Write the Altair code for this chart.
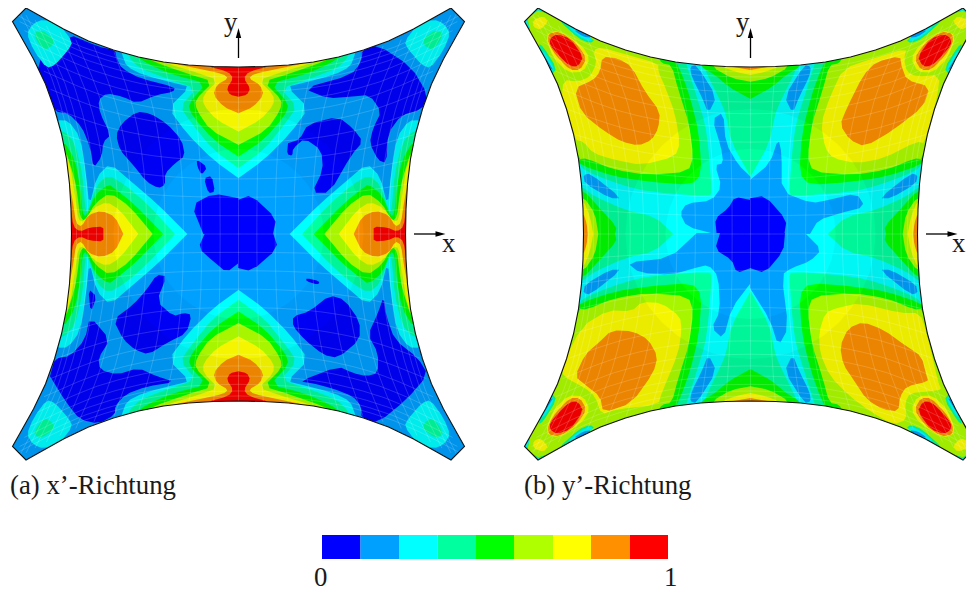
import numpy as np
import altair as alt

# ---- band colours (legend order, value 0 to 1)
LEVELS = ["L0", "L1", "L2", "L3", "L4", "L5", "L6", "L7", "L8"]
COLORS = ["#0000ff", "#00a0ff", "#00ffff", "#00ff9f", "#00ff00", "#afff00", "#ffff00", "#ff9000", "#ff0000"]
LEGEND_EDGES = [322, 360.5, 399, 437.5, 476, 514, 553, 591, 630, 668]

# ---- plate outline: half-width of the plate against distance along the edge
EDGE_U = [0, 25, 50, 75, 100, 125, 150, 175, 200, 212.5]
EDGE_D = [167, 167.5, 169, 172, 177, 184, 193, 205, 219, 226]
CENTER_A = (238.5, 234)
CENTER_B = (750.5, 234)
MESH = [0, .11, .22, .33, .44, .55, .64, .72, .79, .85, .9, .94, .97]

# ---- panel (a), read from the upper-left quarter (mirrored to the others)
A_CORNER_L2 = [(100,70),(130,58),(180,75),(218,125),(205,150),(165,195),(140,205),(100,150),(80,100)]
A_CORNER_L3 = [(100,100),(125,90),(160,115),(160,135),(135,150),(115,130)]
A_SIDE = {
 "L2": [(562,702),(470,610),(400,550),(330,490),(290,530),(268,620),(258,520),(240,410),(205,362),(170,360),(140,400),(180,702)],
 "L3": [(525,702),(440,610),(375,555),(325,525),(290,555),(262,640),(255,620),(247,520),(225,430),(195,395),(175,395),(150,450),(180,702)],
 "L4": [(490,702),(400,610),(350,570),(325,552),(285,585),(258,650),(248,640),(240,560),(225,480),(190,420),(160,460),(180,702)],
 "L5": [(458,702),(390,620),(330,578),(285,610),(255,665),(240,650),(233,590),(225,540),(195,445),(170,480),(180,702)],
 "L6": [(415,702),(360,630),(320,605),(280,625),(250,665),(235,660),(225,590),(210,490),(190,460),(170,500),(180,702)],
 "L7": [(370,702),(345,650),(305,632),(265,645),(245,680),(228,670),(218,600),(205,540),(190,500),(170,520),(180,702)],
 "L8": [(310,702),(310,680),(270,682),(240,695),(220,680),(212,620),(180,600),(180,702)],
}
A_TOP = {
 "L2": [(716,535),(640,480),(560,400),(505,325),(570,260),(525,250),(430,225),(380,200),(365,160),(360,130),(716,130)],
 "L3": [(716,505),(640,450),(575,370),(540,320),(590,265),(500,235),(420,205),(385,170),(380,130),(716,130)],
 "L4": [(716,470),(640,420),(575,345),(565,310),(620,250),(520,225),(440,190),(405,165),(400,130),(716,130)],
 "L5": [(716,435),(630,390),(590,330),(585,300),(640,245),(560,220),(460,185),(430,165),(425,130),(716,130)],
 "L6": [(716,395),(650,360),(610,315),(610,285),(655,240),(590,218),(500,190),(460,170),(450,130),(716,130)],
 "L7": [(716,340),(670,320),(640,285),(650,255),(685,235),(670,222),(590,205),(520,190),(500,130),(716,130)],
 "L8": [(716,290),(690,285),(680,265),(700,235),(685,215),(620,198),(610,130),(716,130)],
}
# dark-blue patches, one set per quarter
A_L0_TL = [
 [(295,140),(345,150),(350,175),(365,205),(420,235),(525,262),(520,275),(470,285),(410,310),(370,290),(320,280),(295,300),(300,340),(332,405),(310,425),(305,470),(280,505),(270,440),(245,380),(205,340),(165,335),(148,290),(100,200),(200,100)],
 [(410,335),(450,340),(500,370),(545,420),(555,468),(525,490),(495,520),(495,555),(475,565),(440,545),(395,490),(360,450),(348,405),(365,370)],
 [(590,478),(622,502),(605,525),(592,500)],
 [(612,535),(635,527),(645,575),(625,580)],
 [(575,615),(640,580),(716,595),(716,702),(610,702)],
]
A_L0_TR = [
 [(372,150),(420,135),(520,200),(570,285),(550,330),(490,345),(450,400),(445,490),(420,480),(395,430),(405,385),(430,335),(395,285),(340,290),(270,295),(195,265),(340,225),(370,185)],
 [(210,372),(300,350),(345,385),(375,425),(340,465),(275,578),(222,578),(255,510),(250,450),(200,415),(165,445),(163,468),(147,462),(150,430),(185,418)],
 [(0,600),(40,585),(115,655),(105,702),(0,702)],
]
A_L0_BL = [
 [(270,250),(330,320),(295,375),(300,410),(350,425),(415,405),(470,430),(525,447),(440,460),(375,485),(345,520),(345,545),(295,572),(240,560),(200,510),(150,430),(165,375),(210,370),(255,320)],
 [(265,168),(290,190),(272,240)],
 [(470,125),(500,130),(470,205),(520,250),(550,240),(575,245),(560,300),(500,330),(445,365),(405,350),(370,320),(340,260),(400,215),(440,170)],
 [(595,45),(615,0),(716,0),(716,90),(680,118),(640,85)],
]
A_L0_BR = [
 [(437,190),(445,250),(470,320),(540,375),(570,425),(505,500),(420,570),(370,555),(370,520),(345,490),(280,465),(220,450),(185,445),(300,400),(345,420),(385,430),(420,420),(420,360),(390,305),(420,240)],
 [(275,187),(320,200),(365,265),(365,320),(300,375),(255,365),(200,320),(165,280),(165,250),(215,235)],
 [(205,135),(245,145),(240,155),(205,145)],
 [(0,0),(105,0),(120,45),(40,115),(0,105)],
]

# ---- panel (b), upper-left quarter (mirrored to the others)
B_MAIN = {
 "L3": [(200,505),(240,525),(320,555),(400,575),(585,590),(590,570),(580,440),(570,370),(545,290),(515,195),(500,150),(82,24),(24,60),(150,350),(190,480)],
 "L4": [(195,495),(300,530),(400,545),(530,555),(560,520),(552,400),(525,290),(492,200),(470,170),(82,24),(24,60),(150,350),(185,470)],
 "L5": [(190,478),(215,475),(300,510),(400,525),(520,515),(535,470),(522,370),(490,270),(470,195),(440,190),(430,170),(82,24),(24,60),(150,350)],
}
B_WEDGE = {
 "L3": [(707,530),(650,430),(632,340),(615,300),(565,200),(560,150),(707,150)],
 "L4": [(707,297),(640,260),(600,225),(555,198),(550,150),(707,150)],
 "L5": [(707,245),(650,235),(590,200),(585,150),(707,150)],
 "L6": [(707,225),(660,215),(620,200),(615,150),(707,150)],
 "L7": [(707,210),(640,198),(635,150),(707,150)],
}
B_WING = {
 "L3": [(150,560),(200,560),(240,590),(330,630),(420,650),(475,702),(150,702)],
 "L4": [(150,570),(205,570),(250,620),(305,680),(300,702),(150,702)],
 "L5": [(150,590),(205,590),(240,640),(250,702),(150,702)],
 "L6": [(150,600),(205,600),(225,650),(235,702),(150,702)],
 "L7": [(150,640),(205,640),(215,670),(218,702),(150,702)],
}
B_PATCH_L1 = [
 [(525,200),(545,195),(605,290),(580,340),(560,290),(530,230)],
 [(205,525),(225,520),(320,595),(285,595),(210,550)],
]
B_STRIP_L3 = [[(70,130),(85,140),(125,205),(110,225),(85,190)], [(130,60),(160,70),(240,120),(225,130),(190,115)]]
B_STRIP_L2 = [[(78,150),(92,160),(118,205),(108,218),(88,185)], [(155,78),(185,82),(235,118),(225,125),(190,108)]]
B_STRIP_L1 = [[(90,170),(105,195),(115,210),(105,205)], [(175,90),(205,95),(230,113),(205,110)]]
B_RING_L6 = [(90,105),(130,90),(200,135),(225,175),(205,215),(160,218),(115,175)]
B_RING_L7 = [(100,100),(135,95),(185,130),(215,175),(195,210),(165,210),(125,170),(100,130)]
B_RED = [(105,115),(125,102),(165,115),(205,170),(190,198),(165,200),(130,165),(105,135)]
B_TIP_L6 = [(55,60),(85,48),(100,65),(75,90),(55,80)]

# central patches, one per quarter
B_L1_TL = [(707,530),(670,495),(632,430),(625,337),(592,358),(618,440),(625,490),(600,495),(620,560),(590,602),(515,610),(495,640),(515,680),(600,702),(707,702)]
B_L0_TL = [(660,590),(707,600),(707,702),(605,702),(600,655),(640,625)]
B_L1_TR = [(0,540),(60,490),(85,415),(95,460),(95,575),(185,610),(235,600),(320,580),(345,620),(270,640),(205,660),(180,702),(0,702)]
B_L0_TR = [(0,595),(45,587),(110,660),(103,702),(0,702)]
B_L1_BL = [(707,150),(650,225),(625,318),(590,285),(615,235),(610,130),(580,95),(540,105),(470,125),(375,120),(335,88),(465,75),(545,0),(707,0)]
B_L0_BL = [(600,50),(615,0),(707,0),(707,105),(665,120),(650,80)]
B_L1_BR = [(0,0),(165,0),(215,50),(180,85),(125,105),(95,125),(115,285),(85,340),(60,260),(0,165)]
B_L0_BR = [(0,0),(105,0),(100,55),(45,120),(0,105)]

# yellow and orange plateaus, one per quarter
B_L6_TL = [(145,240),(190,245),(225,230),(245,190),(235,150),(260,142),(320,160),(430,190),(430,215),(450,260),(480,340),(495,430),(480,470),(380,495),(300,480),(235,460),(205,425),(180,420),(140,300)]
B_L7_TL = [(262,170),(310,175),(350,200),(390,275),(435,335),(430,385),(410,420),(370,437),(320,425),(270,395),(200,340),(178,265),(235,240),(255,215)]
B_L6_TR = [(213,370),(225,445),(250,475),(320,490),(400,475),(500,425),(525,430),(560,300),(570,225),(500,230),(470,215),(462,175),(470,145),(370,175),(280,205),(240,290)]
B_L7_TR = [(270,375),(290,325),(340,225),(380,185),(450,168),(455,200),(470,240),(540,260),(520,320),(430,390),(345,440),(300,420)]
B_L6_BL = [(140,400),(200,280),(280,232),(350,235),(380,207),(440,210),(495,250),(500,290),(490,360),(440,480),(430,515),(300,530),(260,545),(240,490),(210,465),(145,430)]
B_L7_BL = [(290,292),(355,295),(400,320),(428,370),(415,420),(350,510),(265,540),(255,490),(210,455),(180,430),(210,365),(250,330)]
B_L6_BR = [(207,300),(225,240),(260,225),(330,210),(450,240),(510,240),(530,300),(565,450),(575,470),(540,475),(480,480),(465,510),(470,560),(430,575),(360,535),(300,490),(240,430),(210,360)]
B_L7_BR = [(270,340),(295,285),(340,267),(400,290),(470,340),(515,370),(530,430),(535,445),(470,460),(450,490),(445,535),(400,530),(350,500),(310,440),(280,395)]

TEXT_X = [10, 524, 314, 664, 224, 736, 442, 952]
TEXT_Y = [494, 494, 586, 586, 31, 31, 252, 252]
TEXTS = ["(a) x\u2019-Richtung", "(b) y\u2019-Richtung", "0", "1", "y", "y", "x", "x"]

SEAM_X = (0, 150, 707, 716)
SEAM_Y = (0, 702)
ROUND = 0.22


def feature(rings, band="L0", kind="Polygon"):
    return {"type": "Feature", "properties": {"band": band}, "geometry": {"type": kind, "coordinates": rings}}


def rounded(points):
    out = []
    n = len(points)
    for i, p in enumerate(points):
        if p[0] in SEAM_X or p[1] in SEAM_Y:
            out.append(p)
            continue
        a, b = points[i - 1], points[(i + 1) % n]
        out.append((p[0] + ROUND * (a[0] - p[0]), p[1] + ROUND * (a[1] - p[1])))
        out.append((p[0] + ROUND * (b[0] - p[0]), p[1] + ROUND * (b[1] - p[1])))
    return out


def poly(points, band, origin, flip=None):
    pts = [[origin[0] + p[0] / 3, origin[1] + p[1] / 3] for p in rounded(points)]
    if flip:
        cx, cy, fx, fy = flip
        pts = [[2 * cx - x if fx else x, 2 * cy - y if fy else y] for x, y in pts]
    return feature([pts + [pts[0]]], band)


def mirrored(points, band, origin, center):
    return [poly(points, band, origin, (center[0], center[1], fx, fy))
            for fx in (False, True) for fy in (False, True)]


def outline(center):
    cx, cy = center
    us = [-u for u in EDGE_U[:0:-1]] + EDGE_U
    ds = EDGE_D[:0:-1] + EDGE_D
    ring = [[cx + u, cy - d] for u, d in zip(us, ds)]
    ring += [[cx + d, cy + u] for u, d in zip(us, ds)]
    ring += [[cx - u, cy + d] for u, d in zip(us, ds)]
    ring += [[cx - d, cy - u] for u, d in zip(us, ds)]
    return ring + [ring[0]]


def ring_overlay(center, radius):
    cx, cy = center
    ang = np.linspace(2 * np.pi, 0, 41)
    hole = [[float(cx + radius * np.cos(a)), float(cy + radius * np.sin(a))] for a in ang]
    return feature([outline(center), hole])


def mesh_lines(center):
    cx, cy = center
    lines = []
    ts = np.linspace(-1, 1, 61)
    edge = lambda v: np.interp(abs(v) * 212.5, EDGE_U, EDGE_D)
    for m in MESH:
        for s in ({m, -m}):
            lines.append([[float(cx + s * edge(t)), float(cy + t * edge(s))] for t in ts])
            lines.append([[float(cx + t * edge(s)), float(cy + s * edge(t))] for t in ts])
    return feature(lines, kind="MultiLineString")


f = []
# panel a
f.append(feature([outline(CENTER_A)], "L1"))
for group, org in ((A_L0_TL, (0, 0)), (A_L0_TR, (238, 0)), (A_L0_BL, (0, 233)), (A_L0_BR, (238, 233))):
    for p in group:
        f.append(poly(p, "L0", org))
f += mirrored(A_CORNER_L2, "L2", (0, 0), CENTER_A)
f += mirrored(A_CORNER_L3, "L3", (0, 0), CENTER_A)
for lv in LEVELS[2:]:
    f += mirrored(A_SIDE[lv], lv, (0, 0), CENTER_A)
    f += mirrored(A_TOP[lv], lv, (0, 0), CENTER_A)

# panel b
Z_TL, Z_TR, Z_BL, Z_BR = (515, 0), (750, 0), (515, 233), (750, 233)
f.append(feature([outline(CENTER_B)], "L2"))
for l1, l0, org in ((B_L1_TL, B_L0_TL, Z_TL), (B_L1_TR, B_L0_TR, Z_TR), (B_L1_BL, B_L0_BL, Z_BL), (B_L1_BR, B_L0_BR, Z_BR)):
    f.append(poly(l1, "L1", org))
    f.append(poly(l0, "L0", org))
for p in B_PATCH_L1:
    f += mirrored(p, "L1", Z_TL, CENTER_B)
for lv in ("L3", "L4", "L5"):
    f += mirrored(B_MAIN[lv], lv, Z_TL, CENTER_B)
for lv in ("L3", "L4", "L5", "L6", "L7"):
    f += mirrored(B_WEDGE[lv], lv, Z_TL, CENTER_B)
    f += mirrored(B_WING[lv], lv, Z_TL, CENTER_B)
for l6, l7, org in ((B_L6_TL, B_L7_TL, Z_TL), (B_L6_TR, B_L7_TR, Z_TR), (B_L6_BL, B_L7_BL, Z_BL), (B_L6_BR, B_L7_BR, Z_BR)):
    f.append(poly(l6, "L6", org))
    f.append(poly(l7, "L7", org))
for group, lv in ((B_STRIP_L3, "L3"), (B_STRIP_L2, "L2"), (B_STRIP_L1, "L1")):
    for p in group:
        f += mirrored(p, lv, Z_TL, CENTER_B)
f += mirrored(B_TIP_L6, "L6", Z_TL, CENTER_B)
f += mirrored(B_RING_L6, "L6", Z_TL, CENTER_B)
f += mirrored(B_RING_L7, "L7", Z_TL, CENTER_B)
f += mirrored(B_RED, "L8", Z_TL, CENTER_B)

PROJ = dict(type="identity", scale=1, translate=[-8, -8])
COLOR = alt.Color("properties.band:N", scale=alt.Scale(domain=LEVELS, range=COLORS), legend=None)


def geo(features):
    return alt.Chart(alt.InlineData(values={"type": "FeatureCollection", "features": features},
                                    format=alt.DataFormat(type="json", property="features")))


bands = geo(f).mark_geoshape(strokeWidth=0).encode(color=COLOR).project(**PROJ)
shade = geo([ring_overlay(c, r) for c in (CENTER_A, CENTER_B) for r in (85, 125)]).mark_geoshape(
    fill="black", fillOpacity=0.04, strokeWidth=0).project(**PROJ)
mesh = geo([mesh_lines(CENTER_A), mesh_lines(CENTER_B)]).mark_geoshape(
    filled=False, stroke="white", strokeWidth=0.6, strokeOpacity=0.28).project(**PROJ)
frame = [[-20, -20], [-20, 620], [1000, 620], [1000, -20], [-20, -20]]
mask = geo([feature([frame, outline(CENTER_A), outline(CENTER_B)])]).mark_geoshape(
    fill="white", strokeWidth=0).project(**PROJ)
edges = geo([feature(outline(c), kind="LineString") for c in (CENTER_A, CENTER_B)]).mark_geoshape(
    filled=False, stroke="#111111", strokeWidth=1.1).project(**PROJ)

swatches = [feature([[[LEGEND_EDGES[i], 535], [LEGEND_EDGES[i + 1], 535], [LEGEND_EDGES[i + 1], 559],
                      [LEGEND_EDGES[i], 559], [LEGEND_EDGES[i], 535]]], LEVELS[i]) for i in range(9)]
legend = geo(swatches).mark_geoshape(strokeWidth=0).encode(color=COLOR).project(**PROJ)

stems, heads = [], []
for c in (CENTER_A, CENTER_B):
    cx = c[0]
    stems.append(feature([[cx, 58], [cx, 33]], kind="LineString"))
    heads.append(feature([[[cx, 28], [cx + 2.7, 38], [cx - 2.7, 38], [cx, 28]]]))
    stems.append(feature([[cx + 175.5, 234], [cx + 200, 234]], kind="LineString"))
    heads.append(feature([[[cx + 207, 234], [cx + 197, 231.3], [cx + 197, 236.7], [cx + 207, 234]]]))
arrow_stems = geo(stems).mark_geoshape(filled=False, stroke="black", strokeWidth=1.3).project(**PROJ)
arrow_heads = geo(heads).mark_geoshape(fill="black", strokeWidth=0).project(**PROJ)

labels = alt.Chart(alt.Data(values=[{"x": x, "y": y, "t": t} for x, y, t in zip(TEXT_X, TEXT_Y, TEXTS)])).mark_text(
    font="Liberation Serif", fontSize=26.8, align="left", baseline="alphabetic", color="#1a1a1a"
).encode(longitude="x:Q", latitude="y:Q", text="t:N").project(**PROJ)

chart = alt.layer(bands, shade, mesh, mask, edges, legend, arrow_stems, arrow_heads, labels).properties(
    width=958, height=582, padding=0, autosize=alt.AutoSizeParams(type="none"), background="white"
).configure_view(stroke=None)

chart.save("out.html", embed_options={"renderer": "svg", "actions": False})
